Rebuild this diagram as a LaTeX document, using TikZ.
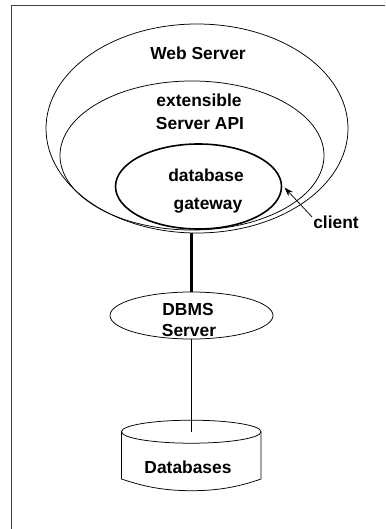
\documentclass[tikz,border=0pt]{standalone}
\usepackage{fontspec}
\setmainfont{Liberation Sans}
\usetikzlibrary{arrows.meta,shapes.geometric}
\tikzset{
  x=1pt,y=-1pt,
  thinline/.style={draw=black,line width=0.75pt},
  thickline/.style={draw=black,line width=2.1pt},
  lbl/.style={font=\fontsize{17.4}{19}\selectfont\bfseries,inner sep=0pt,anchor=center},
  ell/.style={thinline,ellipse,inner sep=0pt}
}
\begin{document}
\begin{tikzpicture}
\useasboundingbox (0,0) rectangle (385,529);
\draw[line width=1pt,draw=black!75] (11,529) -- (11,6) -- (385,6);
\node[ell,minimum width=302pt,minimum height=209pt] (web) at (197,128.5) {};
\node[ell,minimum width=264pt,minimum height=149pt] (api) at (192,155.5) {};
\node[draw=black,line width=1.6pt,ellipse,inner sep=0pt,minimum width=166pt,minimum height=85pt] (gw) at (198.5,186.5) {};
\node[ell,minimum width=163pt,minimum height=47pt] (dbms) at (191.5,315.5) {};
\node[lbl] (t1) at (198,53) {Web Server};
\node[lbl] (t2) at (199,100) {extensible};
\node[lbl] (t3) at (200,124) {Server API};
\node[lbl] (t4) at (206,175) {database};
\node[lbl] (t5) at (208,206) {gateway};
\node[lbl] (client) at (336,222) {client};
\node[lbl] (t6) at (188,310) {DBMS};
\node[lbl] (t7) at (189,331) {Server};
\coordinate (cyltop) at (191.5,431.7);
\draw[thinline] (121.5,431.7) arc[start angle=180,end angle=540,x radius=69.75pt,y radius=-11.5pt];
\draw[thinline] (121.5,431.7) -- (121.5,479) .. controls (145,487) and (165,490.7) .. (191.5,490.7) .. controls (218,490.7) and (238,487) .. (261,479) -- (261,431.7);
\node[lbl] (t8) at (188,467) {Databases};
\draw[thickline] (web.south -| dbms.north) -- (dbms.north);
\draw[thinline] (dbms.south) -- (cyltop);
\coordinate (tip) at (284.5,187.5);
\draw[thinline,-{Stealth[length=9pt,width=6pt]}] (client.west) ++(-1,-5) -- (tip);
\end{tikzpicture}
\end{document}
